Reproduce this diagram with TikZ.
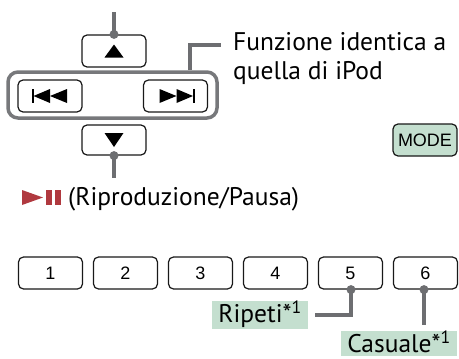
\documentclass[tikz,border=0pt]{standalone}
\usepackage{fontspec}
\setmainfont{PT Sans}
\setsansfont{Liberation Sans}
\usetikzlibrary{positioning}

\definecolor{leadgray}{HTML}{6D6E71}
\definecolor{framegray}{HTML}{77787B}
\definecolor{keygreen}{HTML}{C4DFCF}
\definecolor{playred}{HTML}{B0393F}

\tikzset{
  key/.style={draw=black!90,line width=1.2pt,rounded corners=5pt,
    minimum width=64pt,minimum height=32pt,inner sep=0pt,
    font=\sffamily\fontsize{18}{18}\selectfont},
  lead/.style={draw=leadgray,line width=4pt},
  leaddot/.style={fill=leadgray},
  greenlabel/.style={fill=keygreen,inner xsep=6pt,inner ysep=2pt,
    text height=19pt,text depth=5pt,font=\fontsize{25.5}{25.5}\selectfont},
  plaintext/.style={inner sep=0pt,font=\fontsize{25.5}{29}\selectfont,align=left}
}

\begin{document}
\begin{tikzpicture}[x=1pt,y=-1pt]
            \useasboundingbox (0,0) rectangle (459,359);
            % iPod control cluster
            \node[draw=framegray,line width=3.5pt,rounded corners=10pt,
                  minimum width=209pt,minimum height=46pt] (frame) at (112.5,95) {};
            \begin{scope}[every node/.style={key}]
                \node (up) at (114,51) {};
                \node (prev) at (50,96) {};
                \node (next) at (175.5,96) {};
                \node[minimum height=30pt] (down) at (114,140) {};
                \node[fill=keygreen] (mode) at (425,140) {MODE};

                \node (b1) at (50.5,273) {1};
                \node (b2) at (125.5,273) {2};
                \node (b3) at (200.5,273) {3};
                \node (b4) at (275.5,273) {4};
                \node (b5) at (350.5,273) {5};
                \node (b6) at (425.5,273) {6};
            \end{scope}

            % symbols on the keys
            \begin{scope}[shift={(up.center)}]
                \fill (-9.5,6.5) -- (9.5,6.5) -- (0,-6.5) -- cycle;
            \end{scope}
            \begin{scope}[shift={(down.center)}]
                \fill (-9.5,-7) -- (9.5,-7) -- (0,7) -- cycle;
            \end{scope}
            \begin{scope}[shift={(prev.center)}]
                \fill (-18,-7) rectangle (-16.5,7);
                \fill (-16.5,0) -- (0,-7) -- (0,7) -- cycle;
                \fill (0,0) -- (17,-7) -- (17,7) -- cycle;
            \end{scope}
            \begin{scope}[shift={(next.center)},xscale=-1]
                \fill (-19,-7) rectangle (-17.5,7);
                \fill (-17.5,0) -- (-1,-7) -- (-1,7) -- cycle;
                \fill (-1,0) -- (16,-7) -- (16,7) -- cycle;
            \end{scope}

            % labels
            \coordinate (uptop) at (114,12);
            \coordinate (downend) at (114,178);
            \coordinate (fbend) at (190,45);
            \coordinate (fend) at (221,45);
            \node[plaintext,anchor=base west] (funz) at (233,79) {Funzione identica a\\quella di iPod};

            \begin{scope}[shift={(22,190)}]
                \fill[playred] (0,0) -- (21,7.5) -- (0,15) -- cycle;
                \fill[playred] (24,0) rectangle (29.5,15);
                \fill[playred] (33,0) rectangle (38.5,15);
            \end{scope}
            \node[plaintext,anchor=base west] (play) at (68,205) {(Riproduzione/Pausa)};

            \node[greenlabel,anchor=north east] (ripeti) at (308,301) {Ripeti*\textsuperscript{1}};
            \node[greenlabel,text depth=2pt,anchor=north east] (casuale) at (457,331) {Casuale*\textsuperscript{1}};
            \coordinate (rbend) at (351,315);
            \coordinate (rend) at (315,315);
            \coordinate (cend) at (424,325);

            % leader lines
            \path[lead] (uptop) -- (up.north);
            \path[lead] (down.south) -- (downend);
            \path[lead] (frame.north -| fbend) -- (fbend) -- (fend);
            \path[lead] (b5.south -| rbend) -- (rbend) -- (rend);
            \path[lead] (b6.south -| cend) -- (cend);
            \fill[leaddot] (up.north) circle (4.5pt);
            \fill[leaddot] (down.south) circle (4.5pt);
            \fill[leaddot] (b5.south -| rbend) circle (4.5pt);
            \fill[leaddot] (b6.south -| cend) circle (4.5pt);
        \end{tikzpicture}
\end{document}
